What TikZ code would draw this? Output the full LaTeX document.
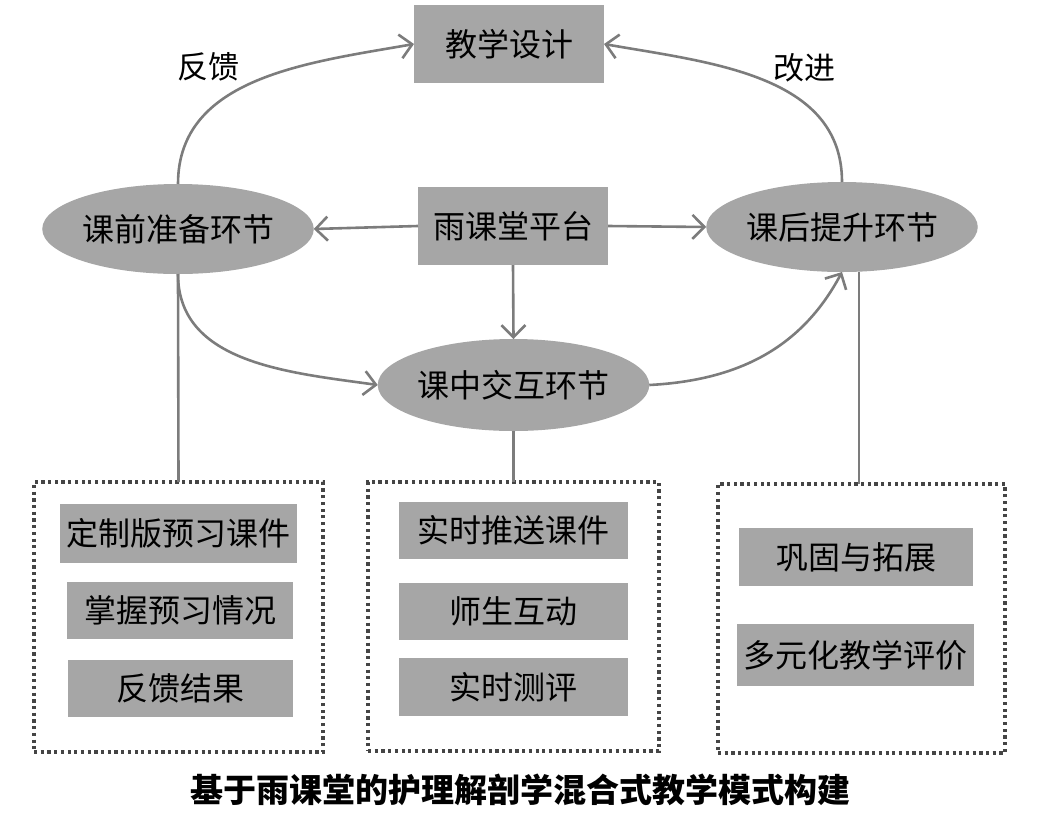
\documentclass[tikz,border=0pt]{standalone}
\usepackage{fontspec}
\setmainfont{Noto Sans CJK SC}
\usetikzlibrary{arrows.meta,shapes.geometric,calc}
\definecolor{boxgray}{HTML}{A6A6A6}
\definecolor{linegray}{HTML}{7C7C7C}
\definecolor{dotgray}{HTML}{454545}
\begin{document}
\begin{tikzpicture}[x=1pt,y=1pt,
  every node/.style={inner sep=0pt,outer sep=0pt,font=\fontsize{32}{36}\selectfont},
  graybox/.style={rectangle,fill=boxgray,draw=none},
  grayell/.style={ellipse,fill=boxgray,draw=none},
  dotbox/.style={rectangle,draw=dotgray,line width=3.5pt,dash pattern=on 3.2pt off 3.5pt},
  conn/.style={draw=linegray,line width=2.6pt},
  arr/.style={conn,-{Straight Barb[length=12pt,width=24pt,line width=2.6pt]}},
  lbl/.style={font=\fontsize{31}{36}\selectfont}
]
\useasboundingbox (0,0) rectangle (1052,-820);
% main nodes
\node[graybox,minimum width=190pt,minimum height=78pt] (design) at (509,-44) {教学设计};
\node[graybox,minimum width=190pt,minimum height=78pt] (platform) at (513,-226) {雨课堂平台};
\node[grayell,minimum width=216pt,minimum height=90pt] (pre) at (178,-229) {课前准备环节};
\node[grayell,minimum width=218pt,minimum height=90pt] (post) at (842,-227) {课后提升环节};
\node[grayell,minimum width=221pt,minimum height=92pt] (mid) at (513.5,-385) {课中交互环节};
% labels
\node[lbl] (fb) at (208,-67) {反馈};
\node[lbl] (gj) at (804,-68) {改进};
% dotted boxes
\node[dotbox,minimum width=289pt,minimum height=270pt] (L) at (178.5,-617) {};
\node[dotbox,minimum width=291pt,minimum height=269pt] (M) at (513.5,-616.5) {};
\node[dotbox,minimum width=287pt,minimum height=269pt] (R) at (861.5,-618.5) {};
% inner boxes
\node[graybox,minimum width=237pt,minimum height=59pt] (a1) at (178.5,-533.5) {定制版预习课件};
\node[graybox,minimum width=226pt,minimum height=57pt] (a2) at (180,-610.5) {掌握预习情况};
\node[graybox,minimum width=225pt,minimum height=57pt] (a3) at (180.5,-688.5) {反馈结果};
\node[graybox,minimum width=229pt,minimum height=57pt] (b1) at (513.5,-530.5) {实时推送课件};
\node[graybox,minimum width=229pt,minimum height=57pt] (b2) at (513.5,-611.5) {师生互动};
\node[graybox,minimum width=229pt,minimum height=58pt] (b3) at (513.5,-687) {实时测评};
\node[graybox,minimum width=234pt,minimum height=58pt] (c1) at (856,-557) {巩固与拓展};
\node[graybox,minimum width=237pt,minimum height=62pt] (c2) at (855.5,-655) {多元化教学评价};
% title
\node[font=\fontsize{33}{38}\selectfont\bfseries] (title) at (520,-790) {基于雨课堂的护理解剖学混合式教学模式构建};
% connectors
\draw[arr] (platform.west) -- (pre.east);
\draw[arr] (platform.east) -- (post.west);
\draw[arr] (platform.south) -- (mid.north);
\draw[arr] (pre.north) to[out=90,in=190] (design.west);
\draw[arr] (post.north) to[out=90,in=-10] (design.east);
\draw[arr] (pre.south) to[out=-90,in=172] (mid.west);
\draw[arr] (mid.east) to[out=3,in=-118] (post.south);
\draw[conn] (pre.south) -- (L.north);
\draw[conn] (mid.south) -- (M.north);
\draw[conn] ([xshift=17pt]post.south) -- ([xshift=17pt]post.south |- R.north);
\end{tikzpicture}
\end{document}
